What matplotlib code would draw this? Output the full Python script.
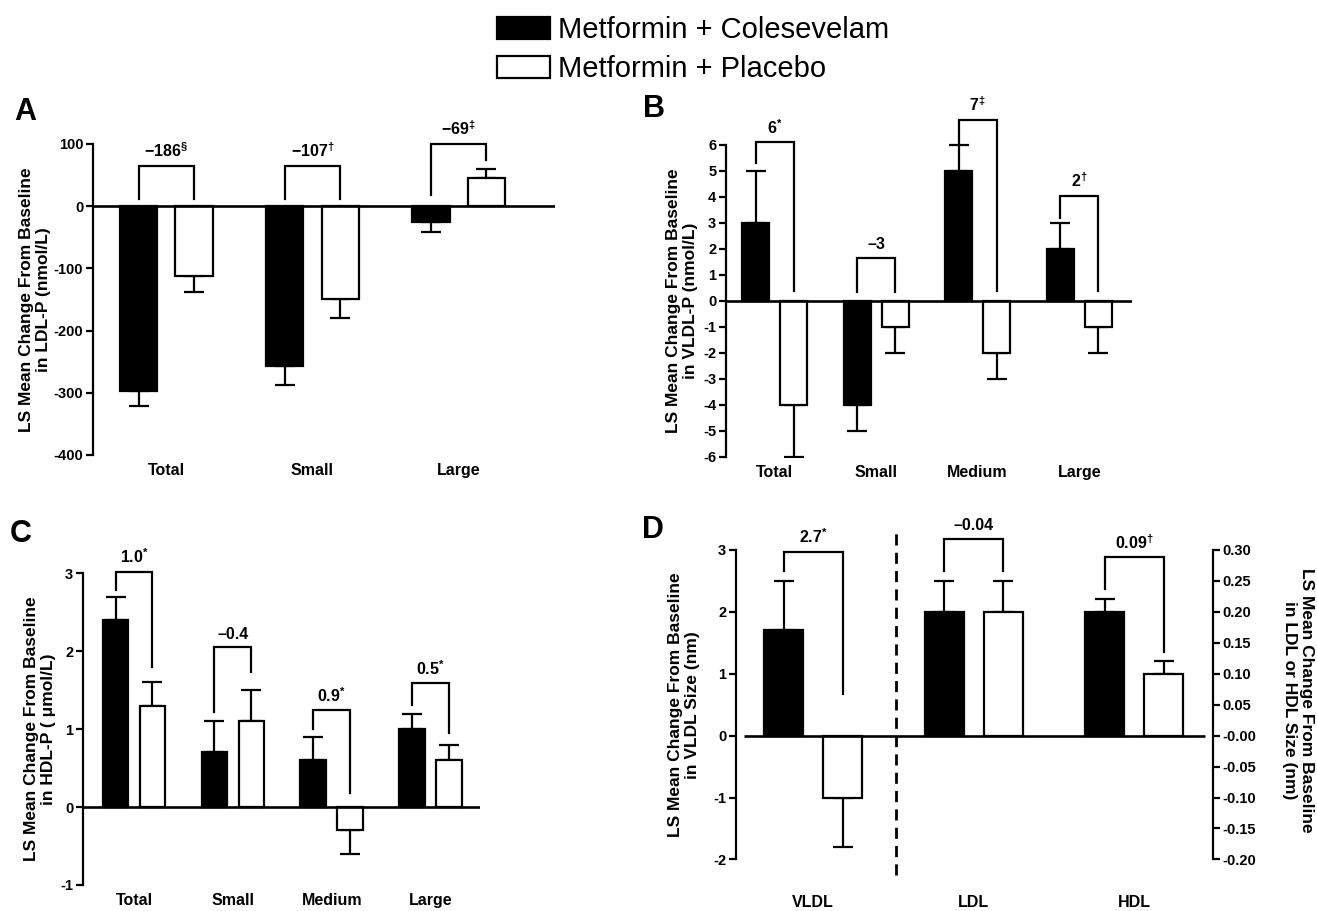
import matplotlib
matplotlib.use('Agg')
import matplotlib.pyplot as plt
from matplotlib import font_manager
import numpy as np

W, H, DPI = 1317, 911, 100

avail = {f.name for f in font_manager.fontManager.ttflist}
narrow = 'Liberation Sans Narrow' if 'Liberation Sans Narrow' in avail else 'Liberation Sans'
plt.rcParams['font.family'] = [narrow, 'DejaVu Sans']
plt.rcParams['font.weight'] = 'bold'
plt.rcParams['axes.unicode_minus'] = False

# ---------------- data ----------------
series_names = ['Metformin + Colesevelam', 'Metformin + Placebo']

# Panel A: LDL-P (nmol/L)
a_cats = ['Total', 'Small', 'Large']
a_cole = [-297, -257, -26]
a_cole_err = [25, 30, 15]
a_plac = [-112, -149, 45]
a_plac_err = [26, 31, 15]
a_diff = ['-186', '-107', '-69']
a_sig = ['§', '†', '‡']
a_br_top = [65, 65, 100]
a_br_left = [12, 12, 18]
a_br_right = [12, 12, 74]
a_ticks = [100, 0, -100, -200, -300, -400]

# Panel B: VLDL-P (nmol/L)
b_cats = ['Total', 'Small', 'Medium', 'Large']
b_cole = [3, -4, 5, 2]
b_cole_err = [2, 1, 1, 1]
b_plac = [-4, -1, -2, -1]
b_plac_err = [2, 1, 1, 1]
b_diff = ['6', '-3', '7', '2']
b_sig = ['*', '', '‡', '†']
b_br_top = [6.1, 1.67, 6.96, 4.04]
b_br_left = [5.3, 0.36, 6.0, 3.2]
b_br_right = [0.4, 0.36, 0.4, 0.4]
b_ticks = list(range(-6, 7))

# Panel C: HDL-P (umol/L)
c_cats = ['Total', 'Small', 'Medium', 'Large']
c_cole = [2.4, 0.7, 0.6, 1.0]
c_cole_err = [0.3, 0.4, 0.3, 0.2]
c_plac = [1.3, 1.1, -0.3, 0.6]
c_plac_err = [0.3, 0.4, 0.3, 0.2]
c_diff = ['1.0', '-0.4', '0.9', '0.5']
c_sig = ['*', '', '*', '*']
c_br_top = [3.02, 2.05, 1.24, 1.59]
c_br_left = [2.78, 1.22, 1.0, 1.31]
c_br_right = [1.8, 1.73, 0.18, 0.95]
c_ticks = [-1, 0, 1, 2, 3]

# Panel D: particle size (nm); VLDL on left axis, LDL/HDL on right axis
d_cats = ['VLDL', 'LDL', 'HDL']
d_vldl_cole, d_vldl_cole_err = 1.7, 0.8
d_vldl_plac, d_vldl_plac_err = -1.0, 0.8
d_lh_cole = [0.20, 0.20]
d_lh_cole_err = [0.05, 0.02]
d_lh_plac = [0.20, 0.10]
d_lh_plac_err = [0.05, 0.02]
d_diff = ['2.7', '-0.04', '0.09']
d_sig = ['*', '', '†']
d_vldl_br = (2.97, 2.66, 0.67)            # top, left end, right end (left axis)
d_lh_br_top = [0.318, 0.288]              # right axis
d_lh_br_left = [0.266, 0.237]
d_lh_br_right = [0.266, 0.135]
d_ticks_left = [-2, -1, 0, 1, 2, 3]
d_ticks_right = [-0.20, -0.15, -0.10, -0.05, 0.0, 0.05, 0.10, 0.15, 0.20, 0.25, 0.30]

# ---------------- helpers ----------------
LW = 1.6
fig = plt.figure(figsize=(W / DPI, H / DPI), dpi=DPI)


def add_ax(l, t, r, b):
    return fig.add_axes([l / W, 1 - b / H, (r - l) / W, (b - t) / H])


def style_ax(ax, ticks, bounds, xpad=6):
    for s in ['top', 'right', 'bottom']:
        ax.spines[s].set_visible(False)
    ax.spines['left'].set_linewidth(LW)
    ax.spines['left'].set_bounds(*bounds)
    ax.set_yticks(ticks)
    ax.tick_params(axis='y', direction='out', length=5, width=LW, labelsize=10.5, pad=2)
    ax.tick_params(axis='x', length=0, labelsize=11.5, pad=xpad)


def bars(ax, x, vals, errs, width, color, zorder=3):
    vals = np.asarray(vals, float)
    errs = np.asarray(errs, float)
    lower = np.where(vals < 0, errs, 0)
    upper = np.where(vals >= 0, errs, 0)
    ax.errorbar(x, vals, yerr=[lower, upper], fmt='none', ecolor='black',
                elinewidth=LW, capsize=7, capthick=LW, zorder=zorder - 1)
    return ax.bar(x, vals, width, color=color, edgecolor='black', linewidth=LW, zorder=zorder)


def sigtext(d, s):
    if s:
        return r'$\mathregular{%s^{%s}}$' % (d, s)
    return d.replace('-', '\u2013')


def bracket(ax, xl, xr, top, left, right, label):
    ax.plot([xl, xl, xr, xr], [left, top, top, right], color='black', lw=LW,
            solid_joinstyle='miter', zorder=5)
    ax.annotate(label, ((xl + xr) / 2, top), xytext=(0, 4), textcoords='offset points',
                ha='center', va='bottom', fontsize=11.5, fontweight='bold')


def grouped(ax, cats, v1, e1, v2, e2, width, off, brt, brl, brr, diffs, sigs):
    x = np.arange(len(cats))
    h1 = bars(ax, x - off, v1, e1, width, 'black')
    h2 = bars(ax, x + off, v2, e2, width, 'white')
    for i in range(len(cats)):
        bracket(ax, x[i] - off, x[i] + off, brt[i], brl[i], brr[i], sigtext(diffs[i], sigs[i]))
    ax.axhline(0, color='black', lw=LW + 0.3, zorder=6)
    ax.set_xticks(x)
    ax.set_xticklabels(cats, fontweight='bold')
    return h1, h2


def ylab(x, y, text, rot=90):
    fig.text(x / W, 1 - y / H, text, rotation=rot, ha='center', va='center',
             multialignment='center', fontsize=12.5, fontweight='bold', linespacing=1.15)


def letter(x, y, s):
    fig.text(x / W, 1 - y / H, s, ha='left', va='baseline', fontsize=22,
             fontweight='bold', family=['Liberation Sans', 'DejaVu Sans'])


# ---------------- Panel A ----------------
axA = add_ax(93, 119, 555, 455)
hA1, hA2 = grouped(axA, a_cats, a_cole, a_cole_err, a_plac, a_plac_err, 0.254, 0.189,
                   a_br_top, a_br_left, a_br_right, a_diff, a_sig)
axA.set_xlim(-0.502, 2.66)
axA.set_ylim(-400, 140)
style_ax(axA, a_ticks, (-400, 100))

# ---------------- Panel B ----------------
axB = add_ax(726, 93, 1132, 457)
grouped(axB, b_cats, b_cole, b_cole_err, b_plac, b_plac_err, 0.266, 0.187,
        b_br_top, b_br_left, b_br_right, b_diff, b_sig)
axB.set_xlim(-0.478, 3.52)
axB.set_ylim(-6, 8)
style_ax(axB, b_ticks, (-6, 6))

# ---------------- Panel C ----------------
axC = add_ax(83, 542, 480, 885)
grouped(axC, c_cats, c_cole, c_cole_err, c_plac, c_plac_err, 0.258, 0.187,
        c_br_top, c_br_left, c_br_right, c_diff, c_sig)
axC.set_xlim(-0.516, 3.50)
axC.set_ylim(-1, 3.4)
style_ax(axC, c_ticks, (-1, 3))

# ---------------- Panel D ----------------
axD = add_ax(736, 519, 1213, 878)
axD2 = axD.twinx()
dw, doff = 0.243, 0.184
xd = np.arange(len(d_cats))
bars(axD, [xd[0] - doff], [d_vldl_cole], [d_vldl_cole_err], dw, 'black')
bars(axD, [xd[0] + doff], [d_vldl_plac], [d_vldl_plac_err], dw, 'white')
bracket(axD, xd[0] - doff, xd[0] + doff, *d_vldl_br, sigtext(d_diff[0], d_sig[0]))
bars(axD2, xd[1:] - doff, d_lh_cole, d_lh_cole_err, dw, 'black')
bars(axD2, xd[1:] + doff, d_lh_plac, d_lh_plac_err, dw, 'white')
for i in range(2):
    bracket(axD2, xd[i + 1] - doff, xd[i + 1] + doff, d_lh_br_top[i], d_lh_br_left[i],
            d_lh_br_right[i], sigtext(d_diff[i + 1], d_sig[i + 1]))
axD.hlines(0, -0.43, 2.44, color='black', lw=LW + 0.3, zorder=6)
axD.vlines(0.517, -2.25, 3.35, color='black', lw=LW + 0.4, linestyles=(0, (4, 2.6)), zorder=6)
axD.set_xlim(-0.48, 2.49)
axD.set_ylim(-2.3, 3.5)
axD2.set_ylim(-0.23, 0.35)
style_ax(axD, d_ticks_left, (-2, 3), xpad=12)
axD.set_xticks(xd)
axD.set_xticklabels(d_cats, fontweight='bold')
for s in ['top', 'left', 'bottom']:
    axD2.spines[s].set_visible(False)
axD2.spines['right'].set_linewidth(LW)
axD2.spines['right'].set_bounds(-0.2, 0.3)
axD2.set_yticks(d_ticks_right)
axD2.set_yticklabels([('%.2f' % v) if v > 1e-9 else ('-%.2f' % abs(v)) for v in d_ticks_right])
axD2.tick_params(axis='y', direction='out', length=5, width=LW, labelsize=10.5, pad=2)

# ---------------- labels ----------------
ylab(35, 300, 'LS Mean Change From Baseline\nin LDL-P (nmol/L)')
ylab(682, 301, 'LS Mean Change From Baseline\nin VLDL-P (nmol/L)')
ylab(40, 729, 'LS Mean Change From Baseline\nin HDL-P ( μmol/L)')
ylab(684, 705, 'LS Mean Change From Baseline\nin VLDL Size (nm)')
ylab(1298, 700, 'LS Mean Change From Baseline\nin LDL or HDL Size (nm)', rot=270)

letter(14, 120, 'A')
letter(643, 117, 'B')
letter(10, 542, 'C')
letter(642, 538, 'D')

leg = fig.legend([hA1, hA2], series_names, loc='upper left',
                 bbox_to_anchor=(497 / W, 1 - 16 / H), frameon=False,
                 prop={'family': ['Liberation Sans', 'DejaVu Sans'], 'weight': 'normal', 'size': 21},
                 handlelength=1.83, handleheight=0.79, handletextpad=0.25,
                 labelspacing=0.37, borderpad=0, borderaxespad=0)

fig.savefig('out.png', dpi=DPI)
